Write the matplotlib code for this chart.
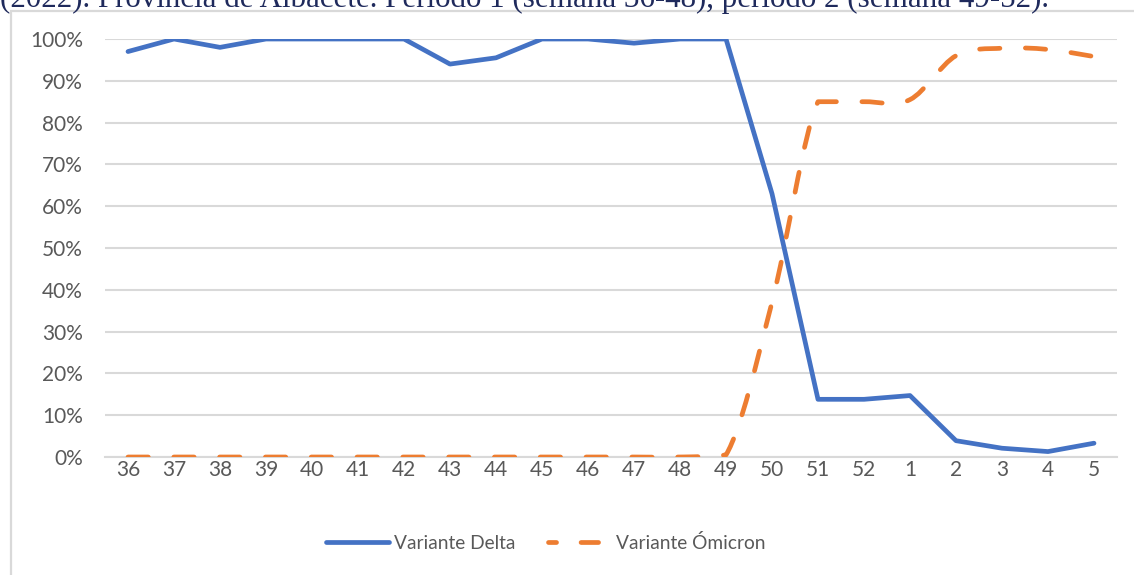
import matplotlib
matplotlib.use("Agg")
import matplotlib.pyplot as plt
from matplotlib.path import Path
from matplotlib.patches import PathPatch, Rectangle
from matplotlib.lines import Line2D
from matplotlib.ticker import PercentFormatter, FixedLocator
import numpy as np

weeks = ["36", "37", "38", "39", "40", "41", "42", "43", "44", "45", "46",
         "47", "48", "49", "50", "51", "52", "1", "2", "3", "4", "5"]
delta = [97, 100, 98, 100, 100, 100, 100, 94, 95.5, 100, 100,
         99, 100, 100, 63, 13.8, 13.8, 14.7, 3.9, 2.1, 1.3, 3.3]
omicron = [0, 0, 0, 0, 0, 0, 0, 0, 0, 0, 0,
           0, 0, 0.5, 37, 85, 85, 85.5, 96, 97.8, 97.5, 95.8]
yticks = [0, 10, 20, 30, 40, 50, 60, 70, 80, 90, 100]
title = "(2022). Provincia de Albacete. Periodo 1 (semana 36-48), periodo 2 (semana 49-52)."

BLUE = "#4472C4"
ORANGE = "#ED7D31"
GRID = "#D9D9D9"
TXT = "#595959"
FONT = "Lato"

W, H = 1134, 575
fig = plt.figure(figsize=(W / 100, H / 100), dpi=100)
ax = fig.add_axes([105 / W, 1 - 457 / H, (1117 - 105) / W, (457 - 39) / H])

x = np.arange(len(weeks))

# Delta: straight solid line
ax.plot(x, delta, color=BLUE, lw=3.4, solid_joinstyle="round",
        solid_capstyle="round", zorder=3)

# Omicron: smoothed (Excel-style Bezier) dashed line through the data points
pts = np.column_stack([x, omicron]).astype(float)
n = len(pts)
verts = [pts[0]]
codes = [Path.MOVETO]
for i in range(n - 1):
    p0 = pts[i - 1] if i > 0 else pts[i]
    p1 = pts[i]
    p2 = pts[i + 1]
    p3 = pts[i + 2] if i + 2 < n else pts[i + 1]
    c1 = p1 + (p2 - p0) / 6.0
    c2 = p2 - (p3 - p1) / 6.0
    lo, hi = min(p1[1], p2[1]), max(p1[1], p2[1])
    if hi - lo > 2.5 or abs(p0[1] - p1[1]) > 20 or abs(p3[1] - p2[1]) > 20:
        c1[1] = np.clip(c1[1], lo, hi)
        c2[1] = np.clip(c2[1], lo, hi)
    verts += [c1, c2, p2]
    codes += [Path.CURVE4] * 3
path = Path(verts, codes)
DASH = (0, (4.3, 5.4))
patch = PathPatch(path, fill=False, edgecolor=ORANGE, lw=3.4,
                  linestyle=DASH, capstyle="round", joinstyle="round", zorder=3)
ax.add_patch(patch)

ax.set_xlim(-0.5, len(weeks) - 0.5)
ax.set_ylim(0, 100)
ax.set_xticks(x)
ax.set_xticklabels(weeks)
ax.yaxis.set_major_locator(FixedLocator(yticks))
ax.yaxis.set_major_formatter(PercentFormatter(100, decimals=0))
ax.grid(axis="y", color=GRID, lw=1.5, zorder=0)
ax.set_axisbelow(True)
for s in ["top", "right", "left"]:
    ax.spines[s].set_visible(False)
ax.spines["bottom"].set_color(GRID)
ax.spines["bottom"].set_linewidth(1.5)
ax.tick_params(axis="both", length=0, colors=TXT, labelsize=15)
ax.tick_params(axis="y", pad=16)
ax.tick_params(axis="x", pad=2)
for lab in ax.get_xticklabels() + ax.get_yticklabels():
    lab.set_fontfamily(FONT)

handles = [
    Line2D([], [], color=BLUE, lw=3.4, solid_capstyle="round"),
    Line2D([], [], color=ORANGE, lw=3.4, linestyle=(2.0, (3.7, 5.2)),
           dash_capstyle="round"),
]
leg = fig.legend(handles, ["Variante Delta", "Variante Ómicron"],
                 loc="center", bbox_to_anchor=(546 / W, 1 - 543 / H),
                 ncol=2, frameon=False, handlelength=3.25, handletextpad=0.3,
                 columnspacing=1.7, borderpad=0, borderaxespad=0,
                 prop={"family": FONT, "size": 13.8})
for t in leg.get_texts():
    t.set_color(TXT)

# outer chart border
fig.add_artist(Rectangle((11 / W, -0.05), 1.2, (575 - 11) / H + 0.05,
                         transform=fig.transFigure, fill=False,
                         edgecolor=GRID, lw=1.6, zorder=0))

# caption at top, partially cut off as in the reference
fig.text(0.0, 1 - 7 / H, title, ha="left", va="baseline",
         fontfamily="Liberation Serif", fontsize=22.3, color="#1F2A5C")

fig.savefig("out.png", dpi=100)
